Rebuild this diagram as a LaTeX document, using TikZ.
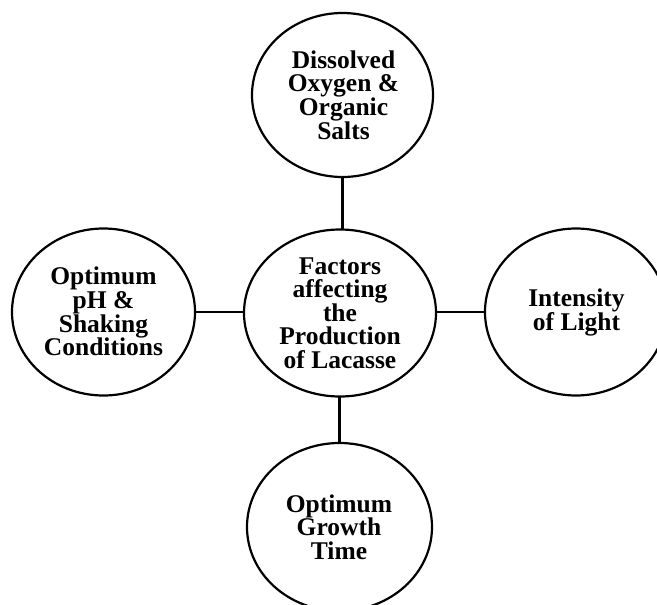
\documentclass[tikz,border=0pt]{standalone}
\usepackage{fontspec}
\setmainfont{Liberation Serif}
\usetikzlibrary{shapes.geometric}
\begin{document}
\begin{tikzpicture}[x=1pt,y=-1pt,
  ell/.style={draw=black,line width=2.2pt,ellipse,inner sep=0pt,outer sep=0pt},
  txt/.style={align=center,inner sep=0pt,font=\fontsize{25.5}{23.6}\selectfont\bfseries},
  conn/.style={draw=black,line width=2.8pt}]
\useasboundingbox (0,0) rectangle (657,605);
\clip (0,0) rectangle (657,605);
\fill[white] (0,0) rectangle (657,605);
\node[ell,minimum width=181pt,minimum height=164pt] (top) at (342.5,95) {};
\node[ell,minimum width=192pt,minimum height=167pt] (c) at (340,313) {};
\node[ell,minimum width=183pt,minimum height=167pt] (left) at (103.5,312) {};
\node[ell,minimum width=182pt,minimum height=167pt] (right) at (576,312) {};
\node[ell,minimum width=185pt,minimum height=168pt] (bot) at (339.5,527) {};
\node[txt] (ttop) at (343.5,95) {Dissolved\\Oxygen \&\\Organic\\Salts};
\node[txt] (tc) at (340,313) {Factors\\affecting\\the\\Production\\of Lacasse};
\node[txt] (tleft) at (103.5,311.5) {Optimum\\pH \&\\Shaking\\Conditions};
\node[txt] (tright) at (576.5,312.5) {Intensity\\of Light};
\node[txt] (tbot) at (339,527) {Optimum\\Growth\\Time};
\draw[conn] (top.south) -- (top.south |- c.north);
\draw[conn] (bot.north |- c.south) -- (bot.north);
\draw[conn] (left.east) -- (left.east -| c.west);
\draw[conn] (right.west -| c.east) -- (right.west);
\end{tikzpicture}
\end{document}
